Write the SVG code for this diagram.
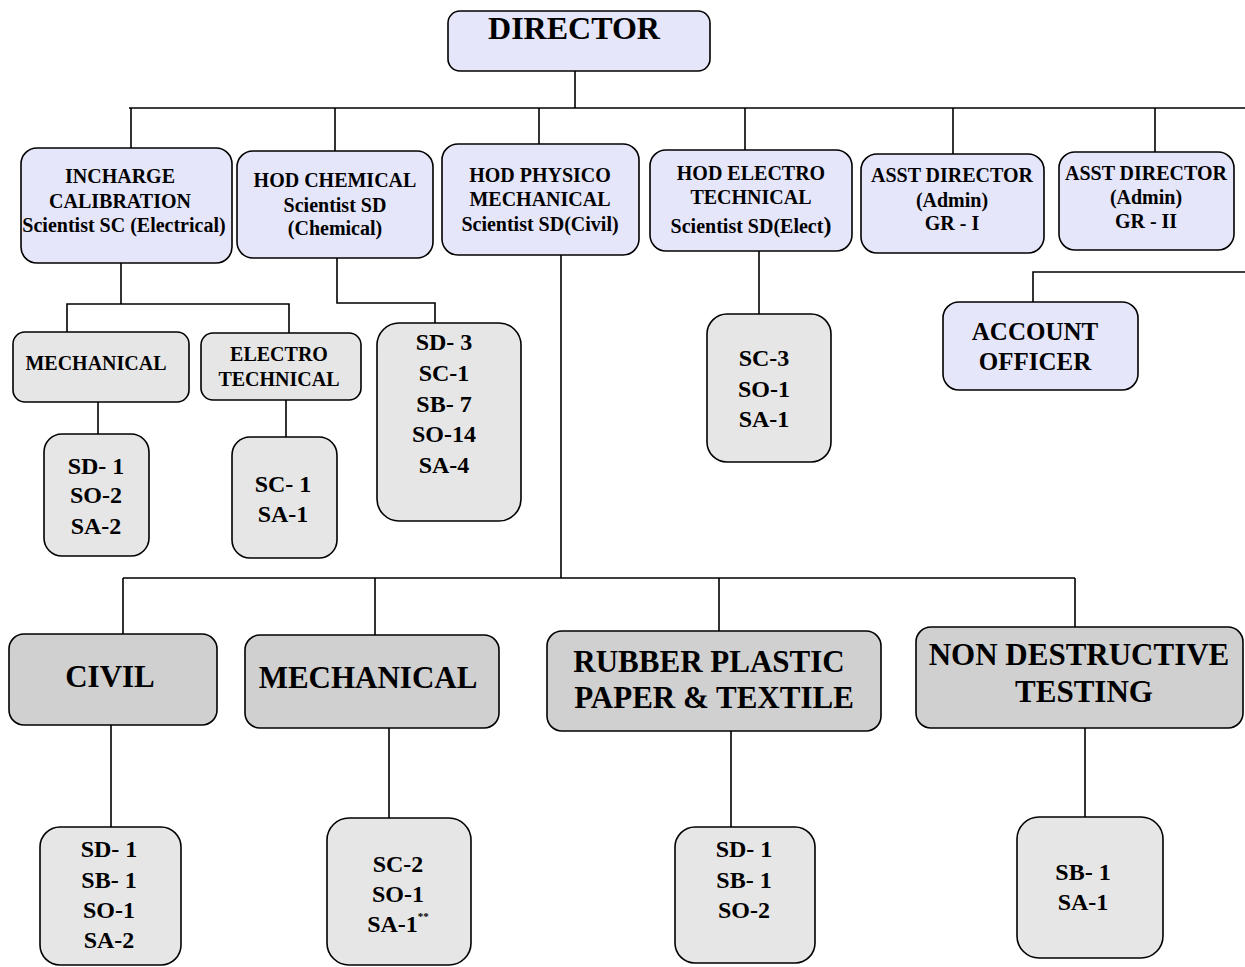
<svg xmlns="http://www.w3.org/2000/svg" width="1245" height="967" viewBox="0 0 1245 967">
<style>
.lav{fill:#E6E6FA;stroke:#000;stroke-width:1.6}
.lg{fill:#E6E6E6;stroke:#000;stroke-width:1.6}
.dg{fill:#D0D0D0;stroke:#000;stroke-width:1.6}
.c{fill:none;stroke:#000;stroke-width:1.6}
text{font-family:"Liberation Serif","Times New Roman",serif;font-weight:bold;fill:#000;text-anchor:middle}
.f20{font-size:20px}
.f24{font-size:24px}
.f25{font-size:25px}
.f30{font-size:31px}
</style>
<rect width="1245" height="967" fill="#fff"/>
<g id="connectors">
<path class="c" d="M575 71 V108 M129 108 H1245 M131 108 V148 M335 108 V151 M539 108 V144 M745 108 V150 M953 108 V154 M1155 108 V152"/>
<path class="c" d="M121 263 V304 M67 332 V304 H289 V333 M98 402 V434 M286 400 V437"/>
<path class="c" d="M337 258 V303 H435 V323"/>
<path class="c" d="M759 251 V314"/>
<path class="c" d="M1245 272 H1033 V302"/>
<path class="c" d="M561 255 V578 M123 578 H1075 M123 578 V634 M375 578 V635 M719 578 V631 M1075 578 V627"/>
<path class="c" d="M111 725 V827 M389 728 V818 M731 731 V827 M1085 728 V817"/>
</g>
<g id="director">
<rect class="lav" x="448" y="11" width="262" height="60" rx="12"/>
<text x="574" y="39" style="font-size:32px">DIRECTOR</text>
</g>
<g id="incharge-calibration">
<rect class="lav" x="21" y="148" width="211" height="115" rx="16"/>
<text class="f20" x="120" y="183">INCHARGE</text>
<text class="f20" x="120" y="208">CALIBRATION</text>
<text class="f20" x="124" y="232">Scientist SC (Electrical)</text>
</g>
<g id="hod-chemical">
<rect class="lav" x="237" y="151" width="196" height="107" rx="16"/>
<text class="f20" x="335" y="187">HOD CHEMICAL</text>
<text class="f20" x="335" y="212">Scientist SD</text>
<text class="f20" x="335" y="235">(Chemical)</text>
</g>
<g id="hod-physico">
<rect class="lav" x="442" y="144" width="197" height="111" rx="16"/>
<text class="f20" x="540" y="182">HOD PHYSICO</text>
<text class="f20" x="540" y="206">MECHANICAL</text>
<text class="f20" x="540" y="231">Scientist SD(Civil)</text>
</g>
<g id="hod-electro">
<rect class="lav" x="650" y="150" width="202" height="101" rx="16"/>
<text class="f20" x="751" y="180">HOD ELECTRO</text>
<text class="f20" x="751" y="204">TECHNICAL</text>
<text class="f20" x="751" y="233">Scientist SD(Elect<tspan style="font-size:24px">)</tspan></text>
</g>
<g id="asst-director-1">
<rect class="lav" x="861" y="154" width="183" height="99" rx="16"/>
<text class="f20" x="952" y="182">ASST DIRECTOR</text>
<text class="f20" x="952" y="207">(Admin)</text>
<text class="f20" x="952" y="230">GR - I</text>
</g>
<g id="asst-director-2">
<rect class="lav" x="1059" y="152" width="175" height="98" rx="16"/>
<text class="f20" x="1146" y="180">ASST DIRECTOR</text>
<text class="f20" x="1146" y="204">(Admin)</text>
<text class="f20" x="1146" y="228">GR - II</text>
</g>
<g id="account-officer">
<rect class="lav" x="943" y="302" width="195" height="88" rx="16"/>
<text class="f25" x="1035" y="340">ACCOUNT</text>
<text class="f25" x="1035" y="370">OFFICER</text>
</g>
<g id="cal-mechanical">
<rect class="lg" x="13" y="332" width="176" height="70" rx="12"/>
<text class="f20" x="96" y="370">MECHANICAL</text>
</g>
<g id="cal-electro">
<rect class="lg" x="201" y="333" width="160" height="67" rx="12"/>
<text class="f20" x="279" y="361">ELECTRO</text>
<text class="f20" x="279" y="386">TECHNICAL</text>
</g>
<g id="cal-mech-staff">
<rect class="lg" x="44" y="434" width="105" height="122" rx="18"/>
<text class="f24" x="96" y="474">SD- 1</text>
<text class="f24" x="96" y="503">SO-2</text>
<text class="f24" x="96" y="534">SA-2</text>
</g>
<g id="cal-electro-staff">
<rect class="lg" x="232" y="437" width="105" height="121" rx="18"/>
<text class="f24" x="283" y="492">SC- 1</text>
<text class="f24" x="283" y="522">SA-1</text>
</g>
<g id="chem-staff">
<rect class="lg" x="377" y="323" width="144" height="198" rx="22"/>
<text class="f24" x="444" y="350">SD- 3</text>
<text class="f24" x="444" y="381">SC-1</text>
<text class="f24" x="444" y="412">SB- 7</text>
<text class="f24" x="444" y="442">SO-14</text>
<text class="f24" x="444" y="473">SA-4</text>
</g>
<g id="electro-staff">
<rect class="lg" x="707" y="314" width="124" height="148" rx="20"/>
<text class="f24" x="764" y="366">SC-3</text>
<text class="f24" x="764" y="397">SO-1</text>
<text class="f24" x="764" y="427">SA-1</text>
</g>
<g id="civil">
<rect class="dg" x="9" y="634" width="208" height="91" rx="15"/>
<text class="f30" x="110" y="687">CIVIL</text>
</g>
<g id="mechanical">
<rect class="dg" x="245" y="635" width="254" height="93" rx="15"/>
<text class="f30" x="368" y="688">MECHANICAL</text>
</g>
<g id="rubber">
<rect class="dg" x="547" y="631" width="334" height="100" rx="15"/>
<text class="f30" x="709" y="672">RUBBER PLASTIC</text>
<text class="f30" x="714" y="708">PAPER &amp; TEXTILE</text>
</g>
<g id="ndt">
<rect class="dg" x="916" y="627" width="327" height="101" rx="15"/>
<text class="f30" x="1079" y="665">NON DESTRUCTIVE</text>
<text class="f30" x="1084" y="702">TESTING</text>
</g>
<g id="civil-staff">
<rect class="lg" x="40" y="827" width="141" height="138" rx="20"/>
<text class="f24" x="109" y="857">SD- 1</text>
<text class="f24" x="109" y="888">SB- 1</text>
<text class="f24" x="109" y="918">SO-1</text>
<text class="f24" x="109" y="948">SA-2</text>
</g>
<g id="mech-staff">
<rect class="lg" x="327" y="818" width="144" height="147" rx="22"/>
<text class="f24" x="398" y="872">SC-2</text>
<text class="f24" x="398" y="902">SO-1</text>
<text class="f24" x="398" y="932">SA-1<tspan style="font-size:11px" dy="-12">**</tspan></text>
</g>
<g id="rubber-staff">
<rect class="lg" x="675" y="827" width="140" height="136" rx="20"/>
<text class="f24" x="744" y="857">SD- 1</text>
<text class="f24" x="744" y="888">SB- 1</text>
<text class="f24" x="744" y="918">SO-2</text>
</g>
<g id="ndt-staff">
<rect class="lg" x="1017" y="817" width="146" height="141" rx="22"/>
<text class="f24" x="1083" y="880">SB- 1</text>
<text class="f24" x="1083" y="910">SA-1</text>
</g>
</svg>
